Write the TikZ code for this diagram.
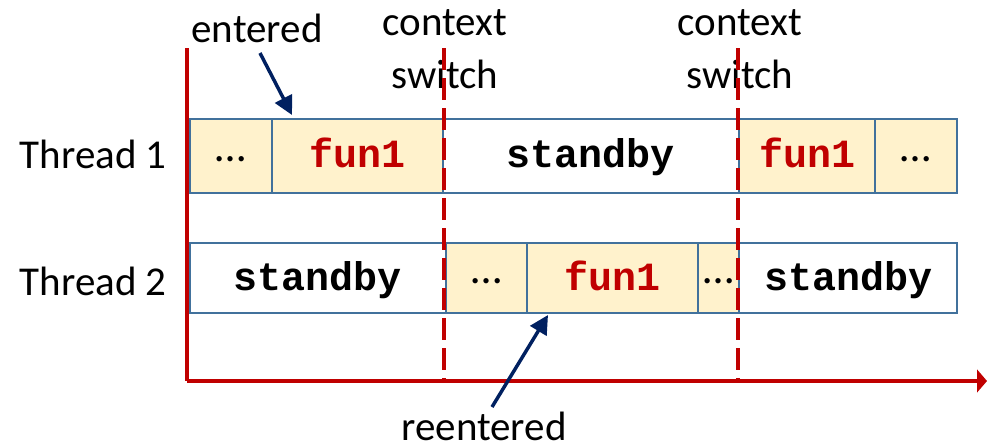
\documentclass[tikz,border=0pt]{standalone}
\usepackage{fontspec}
\setmainfont{Carlito}
\newfontfamily\codefont{Liberation Mono}
\usetikzlibrary{arrows.meta}

\definecolor{boxfill}{HTML}{FFF2CC}
\definecolor{boxline}{HTML}{41719C}
\definecolor{axisred}{HTML}{C00000}
\definecolor{navy}{HTML}{002060}

\tikzset{
  label font/.style={font=\fontsize{30.75pt}{39.75pt}\selectfont},
  seg/.style={draw=boxline, line width=1.5pt, rectangle, inner sep=0pt, outer sep=0pt,
    font=\fontsize{30pt}{36pt}\selectfont\codefont\bfseries, text height=18pt, text depth=0pt},
  busy/.style={seg, fill=boxfill},
  idle/.style={seg, fill=white},
  funtext/.style={text=axisred},
  dotsbox/.style={busy, font=\fontsize{33pt}{36pt}\selectfont, text height=8.25pt},
  row one/.style={minimum height=55.5pt},
  row two/.style={minimum height=52.5pt},
  axis/.style={draw=axisred, line width=3pt},
  switchline/.style={draw=axisred, line width=2.4pt, dash pattern=on 16.5pt off 6pt},
  pointer/.style={draw=navy, line width=2.6pt, -{Triangle[length=14pt,width=14pt]}},
}

\begin{document}
\begin{tikzpicture}[x=0.75pt, y=-0.75pt]
  \useasboundingbox (0,0) rectangle (987,447);

  % row labels
  \node[label font, anchor=base east, inner sep=0pt] (t1) at (167,168) {Thread 1};
  \node[label font, anchor=base east, inner sep=0pt] (t2) at (167,295) {Thread 2};

  % thread 1 timeline
  \node[dotsbox, row one, minimum width=61.5pt]  (d1a) at (231,155.5) {…};
  \node[busy, funtext, row one, minimum width=128.25pt] (f1a) at (357.5,155.5) {fun1};
  \node[idle, row one, minimum width=222pt] (s1) at (591,155.5) {standby};
  \node[busy, funtext, row one, minimum width=102pt] (f1b) at (807,155.5) {fun1};
  \node[dotsbox, row one, minimum width=61.5pt] (d1b) at (916,155.5) {…};

  % thread 2 timeline
  \node[idle, row two, minimum width=192pt] (s2a) at (318,278) {standby};
  \node[dotsbox, row two, minimum width=60.75pt] (d2a) at (486.5,278) {…};
  \node[busy, funtext, row two, minimum width=128.25pt] (f2) at (612.5,278) {fun1};
  \node[dotsbox, row two, minimum width=30.75pt] (d2b) at (718.5,278) {…};
  \node[idle, row two, minimum width=163.5pt] (s2b) at (848,278) {standby};

  % annotations (base anchor sits on the last line)
  \node[label font, anchor=base, inner sep=0pt, align=center] (cs1) at (445,88) {context\\switch};
  \node[label font, anchor=base, inner sep=0pt, align=center] (cs2) at (740,88) {context\\switch};
  \node[label font, anchor=base, inner sep=0pt] (ent) at (257,42) {entered};
  \node[label font, anchor=base, inner sep=0pt] (reent) at (484,440) {reentered};

  % axes
  \coordinate (origin) at (187,381);
  \coordinate (ytop) at (187,48);
  \coordinate (xend) at (987,381);
  \draw[axis] (ytop) -- (origin);
  \draw[axis, -{Triangle[length=7.5pt,width=17pt]}] (origin) -- (xend);

  % context switch markers
  \coordinate (sw1top) at (444,48);
  \coordinate (sw1bot) at (444,381);
  \coordinate (sw2top) at (738,48);
  \coordinate (sw2bot) at (738,381);
  \draw[switchline] (sw1top) -- (sw1bot);
  \draw[switchline] (sw2top) -- (sw2bot);

  % pointers
  \coordinate (entTail) at (260,53);
  \coordinate (entTip) at (292,115);
  \coordinate (reTail) at (492,407);
  \coordinate (reTip) at (548,315);
  \draw[pointer] (entTail) -- (entTip);
  \draw[pointer] (reTail) -- (reTip);
\end{tikzpicture}
\end{document}
